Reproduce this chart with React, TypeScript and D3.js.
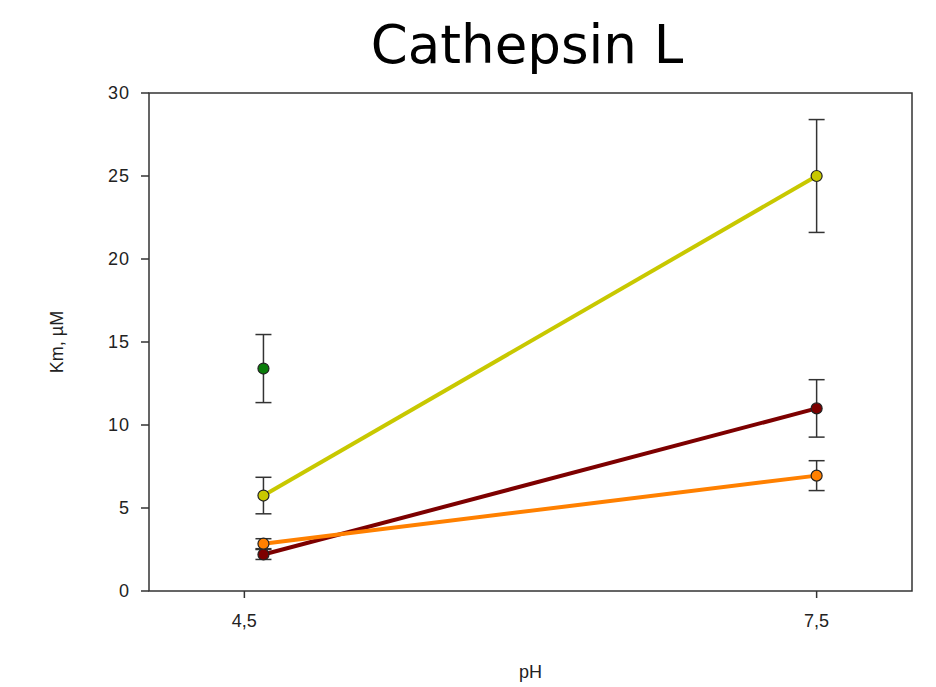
import * as d3 from 'd3';

// pH values where Km was measured
const phLevels = [4.6, 7.5];
const xTicks = [4.5, 7.5];
const yTicks = [0, 5, 10, 15, 20, 25, 30];

// Km means and errors per substrate series (NaN = not measured)
const greenKm = [13.4, NaN];
const greenErr = [2.05, NaN];
const yellowKm = [5.75, 25.0];
const yellowErr = [1.1, 3.4];
const darkRedKm = [2.2, 11.0];
const darkRedErr = [0.3, 1.73];
const orangeKm = [2.85, 6.95];
const orangeErr = [0.3, 0.9];

const seriesList = [
  { name: 'green', color: '#0a7d0a', km: greenKm, err: greenErr },
  { name: 'yellow', color: '#c8c800', km: yellowKm, err: yellowErr },
  { name: 'darkred', color: '#7d0000', km: darkRedKm, err: darkRedErr },
  { name: 'orange', color: '#ff8000', km: orangeKm, err: orangeErr },
];

const W = 936;
const H = 687;
const margin = { top: 93, right: 24, bottom: 96, left: 149 };

export default function App() {
  const x = d3.scaleLinear().domain([4, 8]).range([margin.left, W - margin.right]);
  const y = d3.scaleLinear().domain([0, 30]).range([H - margin.bottom, margin.top]);

  const line = d3
    .line<{ ph: number; km: number }>()
    .defined(d => !isNaN(d.km))
    .x(d => x(d.ph))
    .y(d => y(d.km));

  const axisColor = '#333';
  const tickFont = { fontFamily: 'Liberation Sans, Arial, sans-serif', fontSize: 18, fill: '#222' };

  return (
    <svg width={W} height={H} style={{ position: 'absolute', left: 0, top: 0 }}>
      <rect width={W} height={H} fill="#fff" />
      <text
        x={527}
        y={63}
        textAnchor="middle"
        style={{ fontFamily: 'DejaVu Sans, sans-serif', fontSize: 53, fill: '#000' }}
      >
        Cathepsin L
      </text>

      {/* frame */}
      <rect
        x={x(4)}
        y={y(30)}
        width={x(8) - x(4)}
        height={y(0) - y(30)}
        fill="none"
        stroke={axisColor}
        strokeWidth={1.5}
      />

      {/* y ticks */}
      {yTicks.map(t => (
        <g key={`y${t}`}>
          <line x1={x(4) - 8} x2={x(4)} y1={y(t)} y2={y(t)} stroke={axisColor} strokeWidth={1.5} />
          <text x={x(4) - 19} y={y(t)} dy="0.35em" textAnchor="end" style={tickFont} letterSpacing={1}>
            {t}
          </text>
        </g>
      ))}

      {/* x ticks */}
      {xTicks.map(t => (
        <g key={`x${t}`}>
          <line x1={x(t)} x2={x(t)} y1={y(0)} y2={y(0) + 7} stroke={axisColor} strokeWidth={1.5} />
          <text x={x(t)} y={y(0) + 36} textAnchor="middle" style={tickFont}>
            {String(t).replace('.', ',')}
          </text>
        </g>
      ))}

      <text x={(x(4) + x(8)) / 2} y={678} textAnchor="middle" style={tickFont}>
        pH
      </text>
      <text
        transform={`translate(63, ${(y(0) + y(30)) / 2}) rotate(-90)`}
        textAnchor="middle"
        style={tickFont}
      >
        Km, µM
      </text>

      {/* lines */}
      {seriesList.map(s => (
        <path
          key={`l-${s.name}`}
          d={line(phLevels.map((ph, i) => ({ ph, km: s.km[i] }))) || ''}
          fill="none"
          stroke={s.color}
          strokeWidth={4}
        />
      ))}

      {/* error bars */}
      {seriesList.map(s =>
        phLevels.map((ph, i) =>
          isNaN(s.km[i]) ? null : (
            <g key={`e-${s.name}-${i}`} stroke={axisColor} strokeWidth={1.5}>
              <line x1={x(ph)} x2={x(ph)} y1={y(s.km[i] - s.err[i])} y2={y(s.km[i] + s.err[i])} />
              <line x1={x(ph) - 8} x2={x(ph) + 8} y1={y(s.km[i] + s.err[i])} y2={y(s.km[i] + s.err[i])} />
              <line x1={x(ph) - 8} x2={x(ph) + 8} y1={y(s.km[i] - s.err[i])} y2={y(s.km[i] - s.err[i])} />
            </g>
          ),
        ),
      )}

      {/* markers */}
      {seriesList.map(s =>
        phLevels.map((ph, i) =>
          isNaN(s.km[i]) ? null : (
            <circle
              key={`m-${s.name}-${i}`}
              cx={x(ph)}
              cy={y(s.km[i])}
              r={5.5}
              fill={s.color}
              stroke="#222"
              strokeWidth={1.2}
            />
          ),
        ),
      )}
    </svg>
  );
}
